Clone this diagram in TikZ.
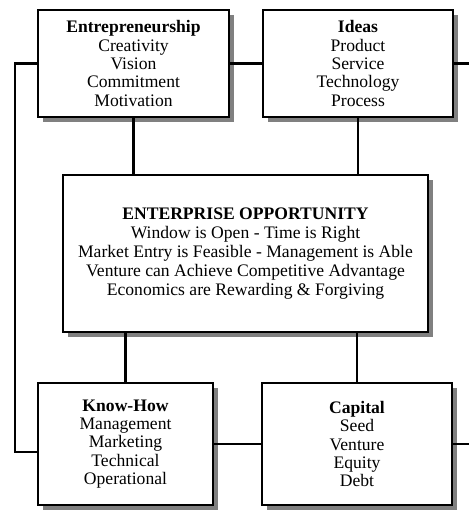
\documentclass[tikz,border=0pt]{standalone}
\usepackage{fontspec}
\setmainfont{Liberation Serif}
\usetikzlibrary{shadows}
\begin{document}
\begin{tikzpicture}[x=1pt,y=-1pt,
  box/.style={draw, line width=2.5pt, fill=white, align=center, inner sep=0pt, outer sep=0pt,
    font=\fontsize{17.6}{18.4}\selectfont,
    drop shadow={shadow xshift=5pt, shadow yshift=-5pt, fill=black!50, opacity=1}},
  link/.style={draw, line width=2.2pt}]
\useasboundingbox (0,0) rectangle (469,510);

\node[box, minimum width=191pt, minimum height=107pt] (ent) at (133.5,63.5)
  {\textbf{Entrepreneurship}\\Creativity\\Vision\\Commitment\\Motivation};
\node[box, minimum width=190pt, minimum height=107pt] (ideas) at (358,63.5)
  {\textbf{Ideas}\\Product\\Service\\Technology\\Process};
\node[box, minimum width=365pt, minimum height=157pt, font=\fontsize{17.6}{19}\selectfont] (opp) at (245.5,253.5)
  {\textbf{ENTERPRISE OPPORTUNITY}\\Window is Open - Time is Right\\Market Entry is Feasible - Management is Able\\Venture can Achieve Competitive Advantage\\Economics are Rewarding \& Forgiving};
\node[box, minimum width=175pt, minimum height=122pt] (know) at (125.5,444)
  {\textbf{Know-How}\\Management\\Marketing\\Technical\\Operational};
\node[box, minimum width=190pt, minimum height=122pt] (cap) at (357,444)
  {\textbf{Capital}\\Seed\\Venture\\Equity\\Debt};

\coordinate (lt) at (15,452);
\coordinate (rtA) at (469,62);
\coordinate (rtB) at (469,444);

\path[link] (ent.south) -- (ent.south |- opp.north);
\path[link] (ideas.south) -- (ideas.south |- opp.north);
\path[link] (know.north) -- (know.north |- opp.south);
\path[link] (cap.north) -- (cap.north |- opp.south);

\path[link] (ent.east) -- (ideas.west);
\path[link] (ideas.east) -- (ideas.east -| rtA);
\path[link] (ent.west) -| (lt) -- (lt -| know.west);
\path[link] (know.east) -- (cap.west);
\path[link] (cap.east) -- (cap.east -| rtB);
\end{tikzpicture}
\end{document}
